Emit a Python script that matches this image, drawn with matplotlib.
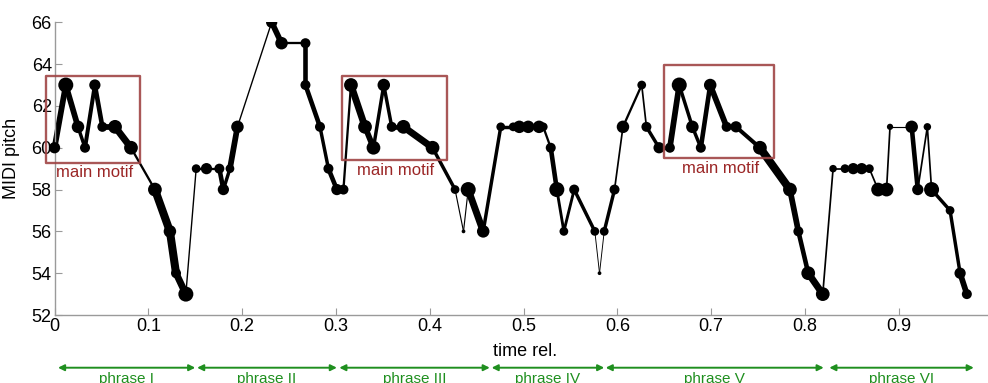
import matplotlib
matplotlib.use("Agg")
import matplotlib.pyplot as plt
import numpy as np
from matplotlib.collections import LineCollection
from matplotlib.patches import Rectangle
from matplotlib.transforms import blended_transform_factory, Bbox, TransformedBbox

plt.rcParams['font.family'] = ['Liberation Sans', 'DejaVu Sans']

# note onsets (relative time) and MIDI pitches
time_rel = [0.000, 0.012, 0.025, 0.0325, 0.043, 0.051, 0.0645, 0.0815, 0.107, 0.123,
            0.1295, 0.140, 0.151, 0.162, 0.1757, 0.180, 0.187, 0.195, 0.2315, 0.242,
            0.2675, 0.2675, 0.283, 0.292, 0.301, 0.308, 0.316, 0.331, 0.340, 0.351,
            0.3595, 0.372, 0.403, 0.427, 0.436, 0.441, 0.457, 0.4757, 0.489, 0.4955,
            0.505, 0.5165, 0.521, 0.529, 0.5355, 0.543, 0.554, 0.576, 0.581, 0.586,
            0.597, 0.606, 0.626, 0.631, 0.6445, 0.656, 0.666, 0.680, 0.689, 0.699,
            0.7165, 0.7265, 0.752, 0.784, 0.793, 0.8035, 0.819, 0.830, 0.8427, 0.8515,
            0.8605, 0.8687, 0.878, 0.887, 0.8907, 0.9138, 0.9203, 0.9305, 0.935, 0.9547,
            0.9654, 0.9726]
pitch = [60, 63, 61, 60, 63, 61, 61, 60, 58, 56,
         54, 53, 59, 59, 59, 58, 59, 61, 66, 65,
         65, 63, 61, 59, 58, 58, 63, 61, 60, 63,
         61, 61, 60, 58, 56, 58, 56, 61, 61, 61,
         61, 61, 61, 60, 58, 56, 58, 56, 54, 56,
         58, 61, 63, 61, 60, 60, 63, 61, 60, 63,
         61, 61, 60, 58, 56, 54, 53, 59, 59, 59,
         59, 59, 58, 58, 61, 61, 58, 61, 58, 57,
         54, 53]
# note weight (drawn as dot diameter)
note_weight = [9, 12, 10, 8, 9, 8, 11, 11, 11, 10,
               8, 12, 7, 9, 8, 9, 7, 10, 9, 10,
               8, 8, 8, 8, 9, 8, 11, 11, 11, 10,
               8, 11, 11, 7, 3, 12, 10, 7, 7, 10,
               10, 10, 7, 8, 12, 7, 8, 7, 3, 7,
               8, 10, 7, 8, 9, 8, 12, 10, 8, 10,
               8, 9, 11, 11, 8, 11, 11, 6, 7, 9,
               9, 7, 11, 11, 5, 10, 9, 6, 12, 7,
               9, 8]
# transition weight between consecutive notes (drawn as line width)
transition_weight = [5, 5, 3, 3.5, 4, 5, 6, 2, 7, 7,
                     6, 1.2, 2, 2, 4, 3, 5, 1.2, 5, 2,
                     4, 4, 3, 4, 3, 2, 6, 5, 3, 3,
                     4, 6, 3, 1, 1, 6, 3, 3, 3, 3,
                     3, 3, 2, 4, 2.5, 2.5, 3, 0.8, 0.8, 3,
                     1.5, 2, 1.5, 3, 3, 5, 3, 3, 4, 5,
                     3, 3.5, 7, 5, 4, 6, 1.5, 1.5, 1.5, 1.5,
                     1.5, 1.5, 1.5, 1.5, 1, 4, 1.5, 1.5, 3, 3,
                     5]

# motif boxes: (t_start, t_end, pitch_low, pitch_high)
motif_boxes = [(-0.0094, 0.0912, 59.28, 63.43),
               (0.306, 0.418, 59.40, 63.43),
               (0.650, 0.767, 59.50, 63.94)]
motif_label = "main motif"

# phrases
phrase_names = ["phrase I", "phrase II", "phrase III", "phrase IV", "phrase V", "phrase VI"]
phrase_start = [0.0037, 0.152, 0.3036, 0.466, 0.5876, 0.826]
phrase_end = [0.150, 0.301, 0.464, 0.586, 0.820, 0.980]

xticks = [0, 0.1, 0.2, 0.3, 0.4, 0.5, 0.6, 0.7, 0.8, 0.9]
xtick_labels = ["0", "0.1", "0.2", "0.3", "0.4", "0.5", "0.6", "0.7", "0.8", "0.9"]
yticks = [52, 54, 56, 58, 60, 62, 64, 66]

DOT_PT = 0.72 * 1.25   # points per unit of note weight
LINE_PT = 0.72 * 1.15  # points per unit of transition weight
red = "#a04545"
green = "#1f8f1f"
gray = "#9a9a9a"

fig = plt.figure(figsize=(9.88, 3.83), dpi=100)
ax = fig.add_axes([0.0552, 0.1775, 0.9494, 0.7643])
ax.set_xlim(0, 1)
ax.set_ylim(52, 66)

# clip at the top of the axes only, leave room on the left and bottom
clip = TransformedBbox(Bbox([[-0.05, -0.1], [1.05, 1.0]]), ax.transAxes)

t = np.asarray(time_rel)
p = np.asarray(pitch, dtype=float)
pts = np.column_stack([t, p])
segs = np.stack([pts[:-1], pts[1:]], axis=1)
lc = LineCollection(segs, linewidths=np.asarray(transition_weight) * LINE_PT,
                    colors="black", capstyle="round", joinstyle="round", zorder=2)
ax.add_collection(lc)
lc.set_clip_box(clip)
sc = ax.scatter(t, p, s=(np.asarray(note_weight) * DOT_PT) ** 2, color="black",
                edgecolors="none", zorder=3)
sc.set_clip_box(clip)

for (x0, x1, y0, y1) in motif_boxes:
    ax.add_patch(Rectangle((x0, y0), x1 - x0, y1 - y0, fill=False, edgecolor=red,
                           linewidth=1.7, joinstyle="round", clip_on=False,
                           alpha=0.9, zorder=4))
    ax.text((x0 + x1) / 2 + 0.002, y0 - 0.47, motif_label, color="#9b2626",
            fontsize=12, ha="center", va="center", zorder=5)

for side in ("top", "right"):
    ax.spines[side].set_visible(False)
for side in ("left", "bottom"):
    ax.spines[side].set_color(gray)
    ax.spines[side].set_linewidth(1.0)

ax.set_xticks(xticks)
ax.set_xticklabels(xtick_labels)
ax.set_yticks(yticks)
ax.tick_params(direction="in", length=5, width=0.8, color=gray, labelsize=13, pad=2)
ax.set_xlabel("time rel.", fontsize=13)
ax.set_ylabel("MIDI pitch", fontsize=13)
ax.xaxis.set_label_coords(0.5016, -0.0957)
ax.yaxis.set_label_coords(-0.0368, 0.536)

trans = blended_transform_factory(ax.transData, ax.transAxes)
for name, a, b in zip(phrase_names, phrase_start, phrase_end):
    ax.annotate("", xy=(b, -0.180), xytext=(a, -0.180), xycoords=trans, textcoords=trans,
                arrowprops=dict(arrowstyle="<|-|>", color=green, lw=1.4,
                                shrinkA=0, shrinkB=0, mutation_scale=9),
                annotation_clip=False)
    ax.text((a + b) / 2, -0.194, name, transform=trans, color=green,
            fontsize=11, ha="center", va="top", clip_on=False)

fig.savefig("out.png", dpi=100)
